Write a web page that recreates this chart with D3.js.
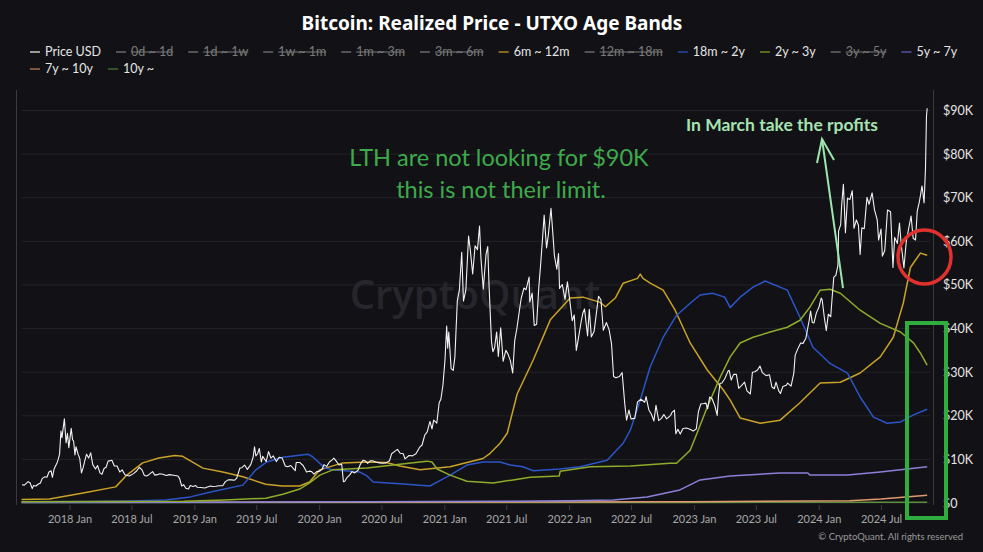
<!DOCTYPE html>
<html><head><meta charset="utf-8">
<script src="https://cdn.jsdelivr.net/npm/d3@7"></script>
<style>html,body{margin:0;padding:0;background:#121216;}svg{display:block}</style>
</head><body>
<svg id="c" width="983" height="552"></svg>
<script>
// ---------- DATA ----------
const yTicks = [0,10000,20000,30000,40000,50000,60000,70000,80000,90000];
const yTickLabels = ["$0","$10K","$20K","$30K","$40K","$50K","$60K","$70K","$80K","$90K"];
const xTickDates = ["2018-01-01","2018-07-01","2019-01-01","2019-07-01","2020-01-01","2020-07-01","2021-01-01","2021-07-01","2022-01-01","2022-07-01","2023-01-01","2023-07-01","2024-01-01","2024-07-01"];

const legendNames  = ["Price USD","0d ~ 1d","1d ~ 1w","1w ~ 1m","1m ~ 3m","3m ~ 6m","6m ~ 12m","12m ~ 18m","18m ~ 2y","2y ~ 3y","3y ~ 5y","5y ~ 7y","7y ~ 10y","10y ~"];
const legendHidden = [false,true,true,true,true,true,false,true,false,false,true,false,false,false];
const legendColors = ["#c8c8c8","#6a6a6a","#6a6a6a","#6a6a6a","#6a6a6a","#6a6a6a","#a8891f","#6a6a6a","#2a48a8","#6f8a22","#6a6a6a","#5652a6","#a46a4a","#3e6a2c"];

const priceUSD = [
["2017-08-15",4200],["2017-08-22",4100],["2017-08-29",4600],["2017-09-02",4900],["2017-09-08",4600],["2017-09-14",3300],["2017-09-18",4000],["2017-09-25",3900],["2017-10-01",4300],["2017-10-08",4600],["2017-10-13",5600],["2017-10-20",6000],["2017-10-27",5900],["2017-11-02",7100],["2017-11-08",7400],["2017-11-12",5900],["2017-11-17",7800],["2017-11-26",9300],["2017-11-29",10000],["2017-12-03",11200],["2017-12-07",16500],["2017-12-10",15000],["2017-12-17",19300],["2017-12-22",13800],["2017-12-26",16000],["2017-12-30",12700],
["2018-01-06",17100],["2018-01-10",14500],["2018-01-13",14200],["2018-01-17",11000],["2018-01-20",12900],["2018-01-26",11200],["2018-01-31",10200],["2018-02-05",6900],["2018-02-10",8100],["2018-02-14",9500],["2018-02-20",11200],["2018-02-26",10300],["2018-03-04",11500],["2018-03-10",8800],["2018-03-18",7800],["2018-03-24",8600],["2018-03-31",6900],["2018-04-06",6600],["2018-04-12",7900],["2018-04-18",8200],["2018-04-24",9600],["2018-05-05",9800],["2018-05-12",8500],["2018-05-20",8500],["2018-05-28",7100],["2018-06-04",7600],["2018-06-12",6500],["2018-06-24",6200],["2018-06-30",6400],["2018-07-08",6800],["2018-07-17",7400],["2018-07-24",8200],["2018-08-01",7600],["2018-08-08",6300],["2018-08-14",6200],["2018-08-21",6500],["2018-09-01",7200],["2018-09-07",6400],["2018-09-15",6500],["2018-09-22",6700],["2018-10-01",6600],["2018-10-11",6300],["2018-10-20",6500],["2018-11-01",6350],["2018-11-14",6200],["2018-11-19",5600],["2018-11-25",3900],["2018-12-01",4200],["2018-12-07",3400],["2018-12-15",3200],["2018-12-20",4000],["2018-12-28",3800],
["2019-01-05",4000],["2019-01-10",3600],["2019-01-20",3550],["2019-02-01",3450],["2019-02-08",3650],["2019-02-18",3900],["2019-02-24",3800],["2019-03-05",3850],["2019-03-15",3950],["2019-03-25",3950],["2019-04-02",4900],["2019-04-10",5300],["2019-04-20",5300],["2019-04-28",5200],["2019-05-05",5700],["2019-05-11",7200],["2019-05-14",8000],["2019-05-20",8100],["2019-05-28",8700],["2019-06-05",7700],["2019-06-15",8800],["2019-06-22",10500],["2019-06-26",12900],["2019-06-30",10800],["2019-07-05",11300],["2019-07-10",12500],["2019-07-16",9400],["2019-07-20",10700],["2019-07-30",9500],["2019-08-06",11800],["2019-08-13",10300],["2019-08-20",10800],["2019-08-29",9500],["2019-09-06",10500],["2019-09-15",10300],["2019-09-24",8500],["2019-10-01",8300],["2019-10-10",8600],["2019-10-23",7400],["2019-10-26",9300],["2019-11-05",9300],["2019-11-15",8600],["2019-11-22",7600],["2019-11-25",7100],["2019-12-03",7300],["2019-12-10",7200],["2019-12-17",6600],["2019-12-25",7200],
["2020-01-03",7300],["2020-01-10",7800],["2020-01-15",8800],["2020-01-23",8400],["2020-01-31",9400],["2020-02-08",9900],["2020-02-13",10300],["2020-02-20",9600],["2020-02-28",8700],["2020-03-07",8900],["2020-03-12",4900],["2020-03-16",5000],["2020-03-22",5800],["2020-03-30",6400],["2020-04-06",7200],["2020-04-14",6900],["2020-04-24",7500],["2020-04-30",8800],["2020-05-08",9800],["2020-05-14",9700],["2020-05-22",9100],["2020-05-30",9700],["2020-06-05",9700],["2020-06-15",9400],["2020-06-25",9200],["2020-07-05",9100],["2020-07-15",9200],["2020-07-25",9700],["2020-07-31",11300],["2020-08-10",11900],["2020-08-17",12300],["2020-08-25",11400],["2020-09-03",11300],["2020-09-08",10100],["2020-09-20",10900],["2020-09-30",10800],["2020-10-10",11300],["2020-10-21",12800],["2020-10-28",13300],["2020-11-05",15600],["2020-11-12",16300],["2020-11-20",18700],["2020-11-26",17000],["2020-12-01",19000],["2020-12-10",18300],["2020-12-17",23000],["2020-12-22",23800],["2020-12-28",27000],
["2021-01-03",32800],["2021-01-08",40600],["2021-01-11",35500],["2021-01-14",39200],["2021-01-21",30800],["2021-01-27",30400],["2021-02-01",33500],["2021-02-08",46300],["2021-02-14",48800],["2021-02-21",57500],["2021-02-26",46300],["2021-03-05",48800],["2021-03-13",61200],["2021-03-18",58000],["2021-03-25",52500],["2021-04-01",59000],["2021-04-08",58100],["2021-04-14",63500],["2021-04-18",56300],["2021-04-25",49000],["2021-05-03",57000],["2021-05-08",58800],["2021-05-12",49500],["2021-05-19",37000],["2021-05-23",34700],["2021-05-28",35600],["2021-06-03",39200],["2021-06-08",33600],["2021-06-15",40200],["2021-06-22",32500],["2021-06-30",35000],["2021-07-06",34200],["2021-07-13",32700],["2021-07-20",29800],["2021-07-26",37300],["2021-08-01",39900],["2021-08-08",43800],["2021-08-14",47000],["2021-08-22",49300],["2021-08-28",48900],["2021-09-06",51800],["2021-09-08",46100],["2021-09-15",48100],["2021-09-21",40700],["2021-09-28",41000],["2021-10-04",49100],["2021-10-10",55000],["2021-10-16",61500],["2021-10-20",66000],["2021-10-27",58500],["2021-11-01",61300],["2021-11-09",67600],["2021-11-16",60100],["2021-11-19",56700],["2021-11-26",53600],["2021-12-01",57200],["2021-12-04",49200],["2021-12-12",50100],["2021-12-20",46700],["2021-12-27",50700],
["2022-01-03",46400],["2022-01-10",41800],["2022-01-16",43100],["2022-01-22",35000],["2022-01-28",37700],["2022-02-05",41500],["2022-02-10",43500],["2022-02-15",44500],["2022-02-24",38300],["2022-03-01",44400],["2022-03-07",38100],["2022-03-15",39300],["2022-03-28",47400],["2022-04-04",46600],["2022-04-11",39600],["2022-04-20",41400],["2022-04-28",39700],["2022-05-05",36500],["2022-05-11",29000],["2022-05-18",28700],["2022-05-28",29000],["2022-06-05",29900],["2022-06-13",22500],["2022-06-18",19000],["2022-06-25",21300],["2022-07-01",19300],["2022-07-12",19400],["2022-07-20",23200],["2022-07-30",23800],["2022-08-10",23100],["2022-08-14",24400],["2022-08-22",21400],["2022-08-30",20300],["2022-09-06",18800],["2022-09-12",22400],["2022-09-20",18900],["2022-09-28",19400],["2022-10-05",20300],["2022-10-13",19300],["2022-10-25",20100],["2022-10-29",20800],["2022-11-05",21300],["2022-11-09",15900],["2022-11-15",16900],["2022-11-22",15800],["2022-11-30",17100],["2022-12-10",17200],["2022-12-20",16900],["2022-12-30",16500],
["2023-01-08",17000],["2023-01-14",20900],["2023-01-21",22700],["2023-01-30",22800],["2023-02-05",22900],["2023-02-10",21600],["2023-02-16",24300],["2023-02-23",23900],["2023-03-03",22300],["2023-03-10",20100],["2023-03-14",24700],["2023-03-18",27400],["2023-03-24",27500],["2023-04-01",28500],["2023-04-11",30300],["2023-04-14",30400],["2023-04-20",28200],["2023-04-27",29500],["2023-05-05",29500],["2023-05-12",26300],["2023-05-20",26900],["2023-05-29",27700],["2023-06-05",25700],["2023-06-15",25000],["2023-06-21",30000],["2023-06-28",30100],["2023-07-06",30500],["2023-07-13",31400],["2023-07-20",29900],["2023-07-31",29200],["2023-08-10",29400],["2023-08-17",26600],["2023-08-24",26200],["2023-08-29",27700],["2023-09-06",25700],["2023-09-11",25100],["2023-09-18",26700],["2023-09-28",27000],["2023-10-02",27500],["2023-10-12",26800],["2023-10-20",29700],["2023-10-24",33900],["2023-11-01",35400],["2023-11-09",36700],["2023-11-16",36600],["2023-11-24",37700],["2023-12-04",41900],["2023-12-08",44000],["2023-12-13",41400],["2023-12-18",41300],["2023-12-25",43600],
["2024-01-02",45000],["2024-01-08",47000],["2024-01-11",46600],["2024-01-17",42700],["2024-01-23",39500],["2024-01-29",43300],["2024-02-05",42700],["2024-02-09",47000],["2024-02-14",51800],["2024-02-20",52200],["2024-02-26",54500],["2024-02-28",62400],["2024-03-05",63800],["2024-03-08",68300],["2024-03-13",73100],["2024-03-19",62000],["2024-03-25",69900],["2024-04-01",69600],["2024-04-08",71600],["2024-04-13",63000],["2024-04-20",64900],["2024-04-26",63700],["2024-05-01",57000],["2024-05-06",63100],["2024-05-13",62900],["2024-05-21",70100],["2024-05-27",68500],["2024-06-05",71100],["2024-06-12",67200],["2024-06-20",64900],["2024-06-24",60300],["2024-07-01",62800],["2024-07-05",56600],["2024-07-12",57900],["2024-07-20",67200],["2024-07-29",66800],["2024-08-05",54000],["2024-08-10",60900],["2024-08-18",59500],["2024-08-24",64200],["2024-08-29",59400],["2024-09-06",53900],["2024-09-13",60000],["2024-09-20",63000],["2024-09-27",65800],["2024-10-03",60700],["2024-10-10",60300],["2024-10-15",67000],["2024-10-21",69000],["2024-10-29",72700],["2024-11-04",68800],["2024-11-08",76500],["2024-11-11",88700],["2024-11-13",90500]
];

const rp6m12m = [["2017-08-14",800],["2017-11-03",900],["2018-02-10",2300],["2018-05-16",3700],["2018-06-15",6200],["2018-08-03",9200],["2018-09-19",10300],["2018-11-05",10900],["2018-11-28",10700],["2019-01-26",8000],["2019-03-25",7100],["2019-05-23",6000],["2019-07-29",4300],["2019-09-15",3900],["2019-11-05",3900],["2019-12-04",4800],["2020-01-03",7600],["2020-03-10",9200],["2020-05-20",9400],["2020-07-15",9300],["2020-08-24",8500],["2020-10-22",7600],["2021-01-18",8300],["2021-04-24",10200],["2021-05-15",11400],["2021-06-13",13700],["2021-07-04",16000],["2021-08-02",25000],["2021-09-18",32800],["2021-11-07",42000],["2022-01-04",47000],["2022-02-11",47200],["2022-04-02",46000],["2022-04-17",45000],["2022-05-16",47000],["2022-06-08",50400],["2022-07-20",51500],["2022-07-28",52500],["2022-08-05",51500],["2022-08-26",50400],["2022-10-03",48800],["2022-11-07",44200],["2022-12-21",36700],["2023-02-09",30500],["2023-03-28",25900],["2023-04-17",23600],["2023-05-16",19500],["2023-07-14",18300],["2023-09-10",19000],["2023-11-07",23000],["2024-01-05",27500],["2024-03-04",27700],["2024-05-01",29800],["2024-06-29",33500],["2024-08-06",38000],["2024-09-04",45800],["2024-09-25",54000],["2024-10-24",57300],["2024-11-13",56800]];

const rp18m2y = [["2017-08-14",300],["2018-03-01",350],["2018-07-01",450],["2018-10-10",700],["2018-12-20",1400],["2019-02-18",2500],["2019-05-23",4100],["2019-06-30",7600],["2019-07-23",8900],["2019-08-01",9400],["2019-09-17",10500],["2019-11-29",11200],["2019-12-13",10600],["2020-01-18",8000],["2020-02-10",7600],["2020-04-29",7100],["2020-05-20",6200],["2020-06-07",4800],["2020-08-24",4400],["2020-11-20",3900],["2020-12-11",4800],["2021-01-18",6400],["2021-03-08",8700],["2021-04-24",9400],["2021-06-13",9400],["2021-07-13",8700],["2021-08-19",8300],["2021-09-18",7400],["2021-12-05",7800],["2022-02-02",8300],["2022-04-22",9800],["2022-06-08",13700],["2022-06-29",16700],["2022-07-28",23600],["2022-08-26",31200],["2022-10-03",38000],["2022-11-11",43000],["2022-12-21",45800],["2023-01-19",47700],["2023-02-24",48100],["2023-04-01",47200],["2023-04-17",44800],["2023-05-16",47200],["2023-06-23",49500],["2023-07-28",50900],["2023-10-01",48800],["2023-11-07",42600],["2023-12-15",35700],["2024-02-03",32000],["2024-03-25",29800],["2024-05-01",24300],["2024-06-09",19700],["2024-07-19",18300],["2024-08-27",18600],["2024-10-04",20200],["2024-11-13",21500]];

const rp2y3y = [["2017-08-14",300],["2018-12-01",400],["2019-04-01",700],["2019-07-29",1100],["2019-09-17",2000],["2019-11-05",3200],["2019-12-04",4600],["2020-01-03",6400],["2020-02-10",7600],["2020-05-20",8000],["2020-08-24",8900],["2020-11-11",9600],["2020-11-26",9400],["2020-12-11",7800],["2021-01-18",6400],["2021-03-08",5000],["2021-05-24",4600],["2021-07-21",5300],["2021-09-09",5900],["2021-12-03",6200],["2021-12-06",7300],["2022-03-04",8300],["2022-06-29",8500],["2022-10-23",9100],["2022-11-11",9100],["2022-12-21",12100],["2023-01-10",16000],["2023-02-09",22000],["2023-03-19",28900],["2023-04-17",33500],["2023-05-16",36700],["2023-06-23",38000],["2023-08-12",39200],["2023-10-01",40300],["2023-11-07",41900],["2023-12-06",44900],["2024-01-05",48800],["2024-02-03",49000],["2024-03-04",48100],["2024-05-01",44200],["2024-06-29",41200],["2024-08-27",39200],["2024-10-04",36700],["2024-10-24",34400],["2024-11-13",31600]];

const rp5y7y = [["2017-08-14",100],["2019-06-01",200],["2020-06-01",300],["2021-06-01",400],["2022-01-01",500],["2022-05-10",700],["2022-08-17",1400],["2022-11-21",3000],["2023-01-19",5300],["2023-04-17",6200],["2023-09-10",6900],["2023-11-30",6900],["2023-12-06",6400],["2024-03-25",6400],["2024-06-29",7100],["2024-11-13",8300]];

const rp7y10y = [["2017-08-14",150],["2020-01-01",200],["2023-01-01",300],["2024-04-01",500],["2024-07-01",900],["2024-11-13",1800]];

const rp10y = [["2017-08-14",100],["2020-01-01",120],["2023-01-01",140],["2024-11-13",160]];

// ---------- DRAW ----------
const W = 983, H = 552;
const parse = d3.timeParse("%Y-%m-%d");
const svg = d3.select("#c");
svg.append("rect").attr("width", W).attr("height", H).attr("fill", "#121216");

const x = d3.scaleTime().domain([parse("2018-01-01"), parse("2024-07-01")]).range([69.5, 881]);
const y = d3.scaleLinear().domain([0, 90000]).range([503, 110.5]);

// title
svg.append("text").attr("x", 492).attr("y", 30).attr("text-anchor", "middle")
  .attr("font-family", "'Noto Sans', 'Open Sans', sans-serif").attr("font-weight", 700)
  .attr("font-size", 19).attr("fill", "#ffffff").text("Bitcoin: Realized Price - UTXO Age Bands");

// legend
const lg = svg.append("g").attr("font-family", "Lato, 'Noto Sans', sans-serif").attr("font-size", 12.5);
let lx = 30, row = 0;
legendNames.forEach((name, i) => {
  if (i === 12) { row = 1; lx = 30; }
  const ly = 52 + row * 17;
  const g = lg.append("g");
  g.append("line").attr("x1", lx).attr("x2", lx + 10).attr("y1", ly).attr("y2", ly)
    .attr("stroke", legendColors[i]).attr("stroke-width", 1.5);
  const t = g.append("text").attr("x", lx + 15).attr("y", ly + 4.3)
    .attr("fill", legendHidden[i] ? "#7a7a7a" : "#e6e6e6").text(name);
  const w = t.node().getComputedTextLength();
  if (legendHidden[i]) {
    g.append("line").attr("x1", lx + 15).attr("x2", lx + 15 + w).attr("y1", ly).attr("y2", ly)
      .attr("stroke", "#7a7a7a").attr("stroke-width", 1);
  }
  lx += 15 + w + 15;
});

// grid
svg.append("g").selectAll("line").data(yTicks).join("line")
  .attr("x1", 22).attr("x2", 930).attr("y1", d => y(d)).attr("y2", d => y(d))
  .attr("stroke", "#232328").attr("stroke-width", 1);

// left & right frame lines
svg.append("line").attr("x1", 16.5).attr("x2", 16.5).attr("y1", 90).attr("y2", 505).attr("stroke", "#3a3a40");
svg.append("line").attr("x1", 933.5).attr("x2", 933.5).attr("y1", 90).attr("y2", 505).attr("stroke", "#3a3a40");

// watermark
svg.append("text").attr("x", 475).attr("y", 309).attr("text-anchor", "middle")
  .attr("font-family", "'Open Sans', sans-serif").attr("font-weight", 600).attr("font-size", 40)
  .attr("fill", "#26262c").text("CryptoQuant");

// y axis
const yAxis = d3.axisRight(y).tickValues(yTicks).tickSize(0).tickPadding(10)
  .tickFormat((d, i) => yTickLabels[i]);
const gy = svg.append("g").attr("transform", "translate(933,0)").call(yAxis);
gy.select(".domain").remove();
gy.selectAll("text").attr("font-family", "Lato, 'Noto Sans', sans-serif").attr("font-size", 12.5).attr("fill", "#e6e6e6");

// x axis
const xAxis = d3.axisBottom(x).tickValues(xTickDates.map(parse)).tickSize(5).tickPadding(5)
  .tickFormat(d3.timeFormat("%Y %b"));
const gx = svg.append("g").attr("transform", "translate(0,505)").call(xAxis);
gx.select(".domain").remove();
gx.selectAll("line").attr("stroke", "#3a3a40");
gx.selectAll("text").attr("font-family", "Lato, 'Noto Sans', sans-serif").attr("font-size", 11).attr("fill", "#a8a8a8");

// clip
svg.append("clipPath").attr("id", "clip").append("rect").attr("x", 17).attr("y", 90).attr("width", 916).attr("height", 416);

const line = d3.line().x(d => x(parse(d[0]))).y(d => y(d[1]));
const plot = svg.append("g").attr("clip-path", "url(#clip)");
const series = [
  {d: rp10y, c: "#5c8f3c", w: 1.5},
  {d: rp7y10y, c: "#e09a70", w: 1.5},
  {d: rp5y7y, c: "#8c80d8", w: 1.5},
  {d: rp6m12m, c: "#c9a227", w: 1.5},
  {d: rp18m2y, c: "#2b55c8", w: 1.5},
  {d: rp2y3y, c: "#8fab2a", w: 1.5},
  {d: priceUSD, c: "#f2f2f2", w: 1.1}
];
series.forEach(s => {
  plot.append("path").datum(s.d).attr("d", line).attr("fill", "none")
    .attr("stroke", s.c).attr("stroke-width", s.w).attr("stroke-linejoin", "round");
});

// annotations
svg.append("text").attr("x", 499).attr("y", 166).attr("text-anchor", "middle")
  .attr("font-family", "Lato, 'Noto Sans', sans-serif").attr("font-size", 23.5).attr("fill", "#3daa4b")
  .text("LTH are not looking for $90K");
svg.append("text").attr("x", 501).attr("y", 198).attr("text-anchor", "middle")
  .attr("font-family", "Lato, 'Noto Sans', sans-serif").attr("font-size", 23.5).attr("fill", "#3daa4b")
  .text("this is not their limit.");
svg.append("text").attr("x", 782).attr("y", 131).attr("text-anchor", "middle")
  .attr("font-family", "Lato, 'Noto Sans', sans-serif").attr("font-weight", 700).attr("font-size", 17.5).attr("fill", "#a6e3b3")
  .text("In March take the rpofits");
const arrowC = "#9ee6ad";
svg.append("line").attr("x1", 843).attr("y1", 288).attr("x2", 822).attr("y2", 139).attr("stroke", arrowC).attr("stroke-width", 2);
svg.append("polyline").attr("points", "817,163 822,139 834,160").attr("fill", "none").attr("stroke", arrowC).attr("stroke-width", 2);

svg.append("ellipse").attr("cx", 924.5).attr("cy", 257).attr("rx", 26.5).attr("ry", 27)
  .attr("fill", "none").attr("stroke", "#e0312e").attr("stroke-width", 3.5);
svg.append("rect").attr("x", 907).attr("y", 323).attr("width", 39).attr("height", 195)
  .attr("fill", "none").attr("stroke", "#2fae3f").attr("stroke-width", 4);

// copyright
svg.append("text").attr("x", 963).attr("y", 540).attr("text-anchor", "end")
  .attr("font-family", "Lato, 'Noto Sans', sans-serif").attr("font-size", 9.5).attr("fill", "#9a9a9a")
  .text("© CryptoQuant. All rights reserved");
</script>
</body></html>
